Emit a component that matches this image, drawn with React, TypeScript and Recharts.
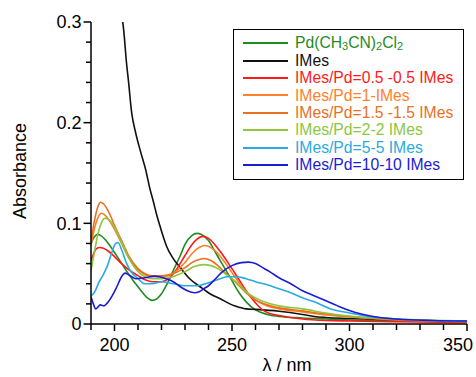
import React from 'react';
import { LineChart, Line, XAxis, YAxis, Legend, Label } from 'recharts';

// ---- Data (wavelength nm, absorbance) ----
const pdData: [number, number][] = [
  [190, 0.080], [191, 0.085], [192, 0.088], [193, 0.089], [194, 0.088], [196, 0.084],
  [198, 0.078], [200, 0.071], [202, 0.064], [205, 0.053], [208, 0.043], [210, 0.037],
  [212, 0.031], [214, 0.026], [216, 0.0235], [218, 0.025], [220, 0.030], [222, 0.038],
  [225, 0.053], [228, 0.068], [230, 0.079], [233, 0.088], [235, 0.090], [237, 0.089],
  [240, 0.083], [243, 0.071], [245, 0.063], [248, 0.051], [250, 0.043], [253, 0.031],
  [256, 0.022], [260, 0.014], [265, 0.0095], [270, 0.0075], [280, 0.006], [290, 0.005],
  [300, 0.004], [320, 0.003], [350, 0.002],
];

const imesData: [number, number][] = [
  [201, 0.37], [203, 0.31], [204, 0.29], [205, 0.262], [206, 0.24], [207.3, 0.21],
  [209, 0.19], [211, 0.172], [213.4, 0.152], [215, 0.135], [216.5, 0.122], [218, 0.108],
  [219.4, 0.097], [221, 0.085], [222.2, 0.077], [225, 0.065], [228, 0.056], [232, 0.045],
  [236.4, 0.037], [240.6, 0.030], [245, 0.025], [250, 0.019], [253, 0.0167], [256, 0.015],
  [260, 0.0145], [270, 0.0127], [280, 0.0095], [285, 0.0075], [290, 0.0065], [300, 0.0055],
  [320, 0.004], [350, 0.003],
];

const r05Data: [number, number][] = [
  [190, 0.063], [191, 0.069], [192, 0.074], [193.5, 0.076], [195, 0.0755], [197, 0.073],
  [200, 0.067], [203, 0.060], [206, 0.054], [210, 0.048], [213, 0.044], [216, 0.042],
  [220, 0.042], [223, 0.045], [226, 0.053], [230, 0.068], [233, 0.079], [235, 0.084],
  [237.5, 0.087], [240, 0.085], [243, 0.078], [245, 0.072], [248, 0.062], [250, 0.055],
  [253, 0.044], [256, 0.033], [260, 0.021], [263, 0.014], [266, 0.0105], [270, 0.0085],
  [280, 0.005], [290, 0.0035], [300, 0.003], [320, 0.0022], [350, 0.0015],
];

const r1Data: [number, number][] = [
  [190, 0.078], [191.5, 0.095], [193, 0.106], [194.5, 0.110], [196, 0.108], [198, 0.102],
  [200, 0.094], [203, 0.080], [206, 0.066], [210, 0.054], [213, 0.049], [216, 0.047],
  [220, 0.047], [223, 0.048], [226, 0.052], [230, 0.061], [233, 0.070], [236, 0.076],
  [238.5, 0.078], [241, 0.076], [244, 0.070], [247, 0.061], [250, 0.051], [253, 0.041],
  [256, 0.032], [260, 0.024], [265, 0.018], [270, 0.015], [280, 0.012], [290, 0.009],
  [300, 0.007], [320, 0.004], [350, 0.0025],
];

const r15Data: [number, number][] = [
  [190, 0.082], [191.5, 0.103], [193, 0.117], [194, 0.121], [195.5, 0.119], [198, 0.109],
  [200, 0.098], [203, 0.083], [206, 0.068], [210, 0.055], [213, 0.050], [216, 0.048],
  [220, 0.048], [223, 0.049], [226, 0.051], [230, 0.056], [233, 0.061], [236, 0.064],
  [238, 0.065], [241, 0.063], [244, 0.058], [247, 0.051], [250, 0.045], [253, 0.038],
  [256, 0.031], [260, 0.024], [265, 0.019], [270, 0.016], [280, 0.013], [290, 0.010],
  [300, 0.0075], [320, 0.0045], [350, 0.0025],
];

const r2Data: [number, number][] = [
  [190, 0.053], [191.5, 0.072], [193, 0.090], [194.5, 0.101], [196, 0.105], [198, 0.103],
  [200, 0.096], [203, 0.081], [206, 0.066], [210, 0.052], [213, 0.047], [216, 0.045],
  [220, 0.045], [223, 0.046], [226, 0.048], [230, 0.052], [234, 0.057], [238, 0.059],
  [241, 0.058], [244, 0.055], [247, 0.050], [250, 0.045], [253, 0.039], [256, 0.032],
  [260, 0.026], [265, 0.021], [270, 0.018], [280, 0.015], [290, 0.011], [300, 0.008],
  [320, 0.005], [350, 0.003],
];

const r5Data: [number, number][] = [
  [190, 0.028], [191, 0.030], [192, 0.034], [193.5, 0.042], [195, 0.048], [197, 0.058],
  [199, 0.072], [200.5, 0.080], [201.5, 0.081], [203, 0.074], [205, 0.061], [207, 0.052],
  [210, 0.045], [213, 0.040], [216, 0.040], [220, 0.042], [225, 0.040], [230, 0.038],
  [235, 0.038], [240, 0.041], [245, 0.045], [248, 0.047], [252, 0.047], [256, 0.045],
  [260, 0.042], [265, 0.039], [270, 0.035], [275, 0.031], [280, 0.026], [285, 0.022],
  [292, 0.015], [300, 0.011], [310, 0.007], [320, 0.005], [335, 0.0035], [350, 0.003],
];

const r10Data: [number, number][] = [
  [190, 0.027], [191, 0.020], [192, 0.015], [193, 0.017], [194, 0.019], [195.5, 0.018],
  [197, 0.021], [199, 0.028], [201, 0.037], [203, 0.047], [204.5, 0.0505], [206, 0.049],
  [209, 0.045], [213, 0.046], [217, 0.0476], [219, 0.047], [222, 0.045], [225, 0.042],
  [228, 0.037], [231, 0.033], [234, 0.031], [236, 0.032], [238, 0.035], [240, 0.038],
  [243, 0.045], [246, 0.052], [250, 0.058], [254, 0.061], [257, 0.0615], [260, 0.060],
  [263, 0.056], [266, 0.052], [270, 0.046], [275, 0.040], [280, 0.033], [284, 0.029],
  [290, 0.023], [295, 0.018], [300, 0.0135], [305, 0.010], [310, 0.0075], [320, 0.005],
  [335, 0.0035], [350, 0.003],
];

const seriesData = [pdData, imesData, r05Data, r1Data, r15Data, r2Data, r5Data, r10Data];
const seriesNames = [
  'Pd(CH3CN)2Cl2',
  'IMes',
  'IMes/Pd=0.5 -0.5 IMes',
  'IMes/Pd=1-IMes',
  'IMes/Pd=1.5 -1.5 IMes',
  'IMes/Pd=2-2 IMes',
  'IMes/Pd=5-5 IMes',
  'IMes/Pd=10-10 IMes',
];
const seriesColors = ['#1f8c1f', '#111111', '#ff1a1a', '#ff7f2a', '#e8711f', '#8dc63f', '#29abe2', '#1c1cd4'];

const xTicks = [190, 200, 210, 220, 230, 240, 250, 260, 270, 280, 290, 300, 310, 320, 330, 340, 350];
const xMajor = [200, 250, 300, 350];
const yTicks = [0, 0.02, 0.04, 0.06, 0.08, 0.1, 0.12, 0.14, 0.16, 0.18, 0.2, 0.22, 0.24, 0.26, 0.28, 0.3];
const yMajor = [0, 0.1, 0.2, 0.3];
const yMajorLabels = ['0', '0.1', '0.2', '0.3'];

const FONT = '"Liberation Sans", Arial, Helvetica, sans-serif';

const toPts = (arr: [number, number][]) => arr.map(([x, y]) => ({ x, y }));

const XTick = (props: any) => {
  const { x, y, payload } = props;
  const v = payload.value;
  const major = xMajor.includes(v);
  const last = v === xMajor[xMajor.length - 1];
  return (
    <g>
      <line x1={x} x2={x} y1={y} y2={y + (major ? 7 : 6)} stroke="#000" strokeWidth={1.5} />
      {major && (
        <text
          x={last ? x + 6 : x}
          y={y + 27}
          textAnchor={last ? 'end' : 'middle'}
          fontSize={18}
          fill="#000"
          fontFamily={FONT}
        >
          {v}
        </text>
      )}
    </g>
  );
};

const YTick = (props: any) => {
  const { x, y, payload } = props;
  const v = payload.value;
  const idx = yMajor.findIndex((m) => Math.abs(m - v) < 1e-9);
  const major = idx >= 0;
  return (
    <g>
      <line x1={x - (major ? 7.5 : 5)} x2={x} y1={y} y2={y} stroke="#000" strokeWidth={1.5} />
      {major && (
        <text x={x - 9.5} y={y + 6.4} textAnchor="end" fontSize={18} fill="#000" fontFamily={FONT}>
          {yMajorLabels[idx]}
        </text>
      )}
    </g>
  );
};

const subStyle: React.CSSProperties = { fontSize: 11, verticalAlign: 'baseline', position: 'relative', top: 2 };

const renderName = (name: string) => {
  if (name === 'Pd(CH3CN)2Cl2') {
    return (
      <span>
        Pd(CH<span style={subStyle}>3</span>CN)<span style={subStyle}>2</span>Cl<span style={subStyle}>2</span>
      </span>
    );
  }
  return <span>{name}</span>;
};

const renderLegend = () => (
  <div
    style={{
      boxSizing: 'border-box',
      width: 231,
      height: 151,
      border: '1px solid #000',
      padding: '4.5px 0 0 9px',
      background: '#fff',
      fontFamily: FONT,
      fontSize: 15.7,
    }}
  >
    {seriesNames.map((n, i) => (
      <div key={n} style={{ display: 'flex', alignItems: 'center', height: 17.4 }}>
        <div style={{ width: 45, height: 2, background: seriesColors[i], marginRight: 7, flexShrink: 0 }} />
        <span style={{ color: seriesColors[i], lineHeight: '17.4px', whiteSpace: 'nowrap' }}>{renderName(n)}</span>
      </div>
    ))}
  </div>
);

export default function App() {
  return (
    <div style={{ position: 'absolute', left: 0, top: 0, width: 476, height: 377, background: '#fff' }}>
      <LineChart width={476} height={377} margin={{ top: 22, right: 9, bottom: 0, left: 0 }} style={{ fontFamily: FONT }}>
        <XAxis
          type="number"
          dataKey="x"
          domain={[190, 350]}
          ticks={xTicks}
          interval={0}
          allowDataOverflow
          tick={XTick}
          tickLine={false}
          tickSize={0}
          tickMargin={0}
          height={53}
          axisLine={{ stroke: '#000', strokeWidth: 1.5 }}
        >
          <Label
            content={() => (
              <text x={287} y={371} textAnchor="middle" fontSize={18} fill="#000" fontFamily={FONT}>
                λ / nm
              </text>
            )}
          />
        </XAxis>
        <YAxis
          type="number"
          dataKey="y"
          domain={[0, 0.3]}
          ticks={yTicks}
          interval={0}
          allowDataOverflow
          tick={YTick}
          tickLine={false}
          tickSize={0}
          tickMargin={0}
          width={91}
          axisLine={{ stroke: '#000', strokeWidth: 1.5 }}
        >
          <Label
            content={() => (
              <text
                x={26}
                y={171}
                transform="rotate(-90, 26, 171)"
                textAnchor="middle"
                fontSize={18}
                fill="#000"
                fontFamily={FONT}
              >
                Absorbance
              </text>
            )}
          />
        </YAxis>
        <Legend
          content={renderLegend}
          layout="vertical"
          align="center"
          verticalAlign="middle"
          wrapperStyle={{ left: 233, top: 29, width: 231, height: 151 }}
        />
        {seriesData.map((d, i) => (
          <Line
            key={seriesNames[i]}
            data={toPts(d)}
            dataKey="y"
            type="monotone"
            stroke={seriesColors[i]}
            strokeWidth={1.6}
            dot={false}
            activeDot={false}
            isAnimationActive={false}
            name={seriesNames[i]}
          />
        ))}
      </LineChart>
    </div>
  );
}
